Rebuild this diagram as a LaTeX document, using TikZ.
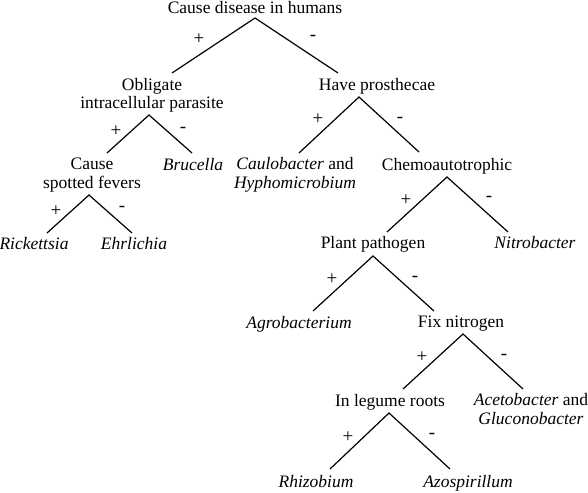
\documentclass[tikz,border=0pt]{standalone}
\usepackage{fontspec}
\setmainfont{Liberation Serif}
\begin{document}
\begin{tikzpicture}[x=1pt,y=-1pt,
  lbl/.style={anchor=base,inner sep=0pt,font=\fontsize{17.5}{18.5}\selectfont,align=center},
  sgn/.style={anchor=center,inner sep=0pt,font=\fontsize{19}{19}\selectfont},
  br/.style={line width=1.2pt,line join=miter}]
\useasboundingbox (0,0) rectangle (588,492);
% text nodes (two-line nodes are placed at their last baseline)
\node[lbl] (root) at (255,14) {Cause disease in humans};
\node[lbl] (obl) at (152,109) {Obligate\\intracellular parasite};
\node[lbl] (hp) at (377,91) {Have prosthecae};
\node[lbl] (csf) at (92,188) {Cause\\spotted fevers};
\node[lbl] (bru) at (193,170) {\textit{Brucella}};
\node[lbl] (caul) at (295,188) {\textit{Caulobacter} and\\\textit{Hyphomicrobium}};
\node[lbl] (chem) at (447,170) {Chemoautotrophic};
\node[lbl] (rick) at (34,249) {\textit{Rickettsia}};
\node[lbl] (ehr) at (134,249) {\textit{Ehrlichia}};
\node[lbl] (pp) at (373,248) {Plant pathogen};
\node[lbl] (nitro) at (535,248) {\textit{Nitrobacter}};
\node[lbl] (agro) at (299,328) {\textit{Agrobacterium}};
\node[lbl] (fix) at (461,327) {Fix nitrogen};
\node[lbl] (leg) at (390,406) {In legume roots};
\node[lbl] (aceto) at (531,424) {\textit{Acetobacter} and\\\textit{Gluconobacter}};
\node[lbl] (rhiz) at (316,487) {\textit{Rhizobium}};
\node[lbl] (azo) at (468,487) {\textit{Azospirillum}};
% branch points
\coordinate (rootA) at (255,18); \coordinate (rootL) at (172,73); \coordinate (rootR) at (338,73);
\coordinate (oblA) at (149,115); \coordinate (oblL) at (107,153); \coordinate (oblR) at (192,153);
\coordinate (csfA) at (89,195); \coordinate (csfL) at (47,233); \coordinate (csfR) at (132,233);
\coordinate (hpA) at (359,97); \coordinate (hpL) at (299,153); \coordinate (hpR) at (419,152);
\coordinate (chemA) at (447,177); \coordinate (chemL) at (387,232); \coordinate (chemR) at (508,232);
\coordinate (ppA) at (373,256); \coordinate (ppL) at (313,311); \coordinate (ppR) at (434,311);
\coordinate (fixA) at (463,334); \coordinate (fixL) at (403,389); \coordinate (fixR) at (523,389);
\coordinate (legA) at (389,413); \coordinate (legL) at (330,469); \coordinate (legR) at (450,469);
\foreach \n in {root,obl,csf,hp,chem,pp,fix,leg}{
  \draw[br] (\n L) -- (\n A) -- (\n R);
}
% signs
\node[sgn] (rootP) at (199,39) {+}; \node[sgn] (rootM) at (313,38) {-};
\node[sgn] (oblP) at (116,131) {+}; \node[sgn] (oblM) at (183,130) {-};
\node[sgn] (csfP) at (56,211) {+}; \node[sgn] (csfM) at (122,209) {-};
\node[sgn] (hpP) at (318,119) {+}; \node[sgn] (hpM) at (400,120) {-};
\node[sgn] (chemP) at (406,200) {+}; \node[sgn] (chemM) at (489,199) {-};
\node[sgn] (ppP) at (332,279) {+}; \node[sgn] (ppM) at (415,279) {-};
\node[sgn] (fixP) at (422,357) {+}; \node[sgn] (fixM) at (504,357) {-};
\node[sgn] (legP) at (348,437) {+}; \node[sgn] (legM) at (432,436) {-};
\end{tikzpicture}
\end{document}
